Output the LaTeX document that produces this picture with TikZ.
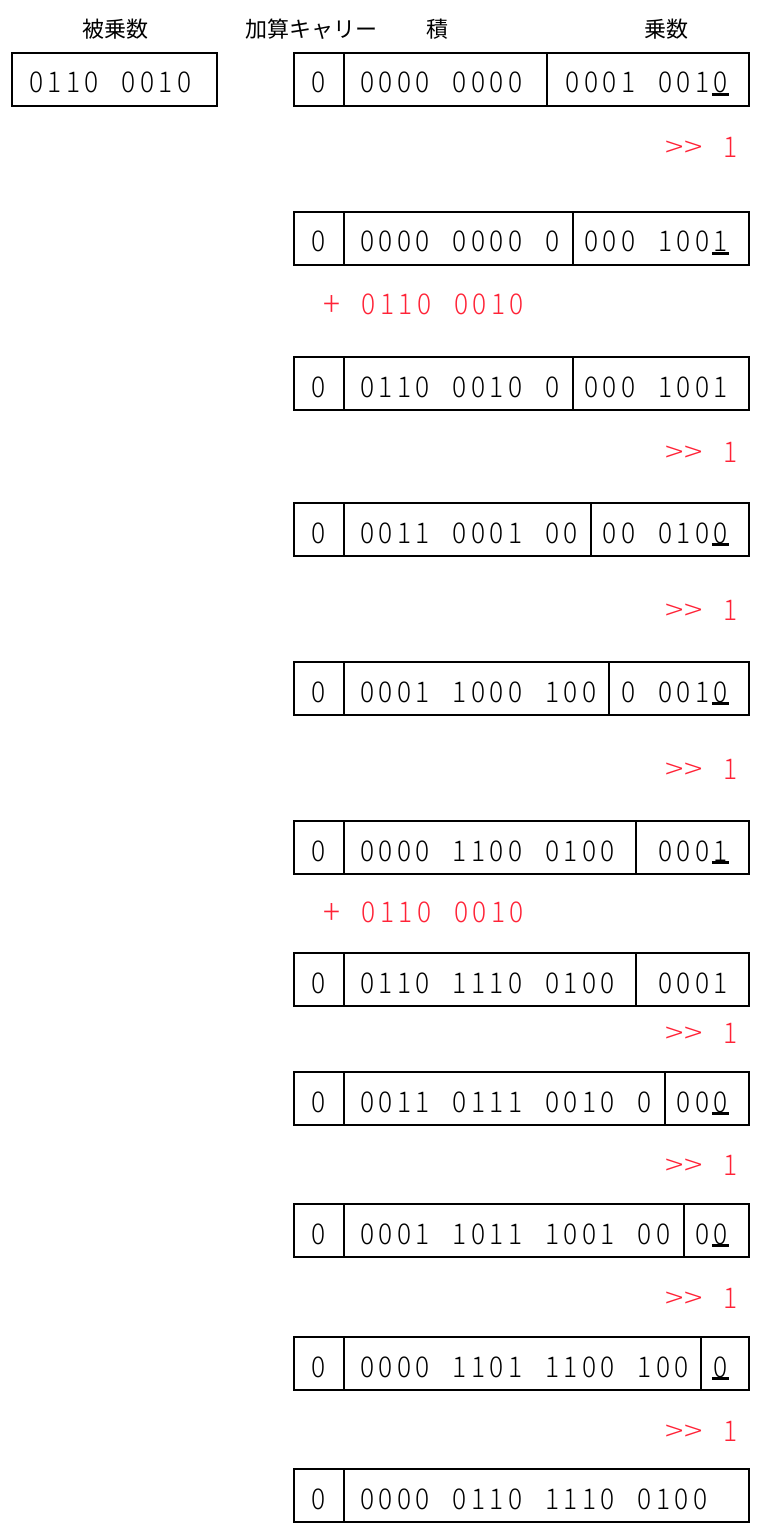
\documentclass[tikz,border=0pt]{standalone}
\usepackage{graphicx}
\usepackage{fontspec}
\newfontfamily\jp{Noto Sans CJK JP}
\newfontfamily\dig{Noto Sans CJK JP Light}[FakeStretch=0.92]
\definecolor{refred}{RGB}{255,35,55}
\makeatletter
\newcommand\mstr[1]{\@tfor\mtok:=#1\do{\makebox[9.25pt][c]{\mtok}}}
\makeatother
\newcommand\ulc[1]{\rlap{\makebox[9.25pt][c]{\smash{\rule[-1.4pt]{8.8pt}{1.2pt}}}}\makebox[9.25pt][c]{#1}}
\newcommand\gtc{\makebox[9.25pt][c]{\scalebox{1.3}[1]{>}}}
\newcommand\shiftlbl{\gtc\gtc\mstr{~1}}
\newcommand\plusc{\makebox[9.25pt][c]{\raisebox{-0.9pt}{\scalebox{1.2}{+}}}}
\tikzset{
  cellbox/.style={draw=black, line width=0.9pt},
  digit/.style={inner sep=0pt, font=\dig\fontsize{14.3pt}{16pt}\selectfont},
  head/.style={inner sep=0pt, font=\jp\fontsize{11pt}{13pt}\selectfont},
  redlbl/.style={digit, text=refred},
}
\newcommand\prow[6]{% idx, top, div, prod, mult
  \draw[cellbox] (294,#2) rectangle (749,#2+53);
  \draw[cellbox] (344,#2) -- (344,#2+53);
  \ifx\relax#3\relax\else\draw[cellbox] (#3,#2) -- (#3,#2+53);\fi
  \node[digit, anchor=base] (c#1) at (319,#2+40) {0};
  \node[digit, anchor=base west] (p#1) at (357.75,#2+40) {\mstr{#4}};
  \node[digit, anchor=base east] (m#1) at (730.25,#2+40) {#5};
}
\begin{document}
\begin{tikzpicture}[x=0.5pt,y=-0.5pt]
\useasboundingbox (0,0) rectangle (770,1540);
% headers
\node[head] (h1) at (115,29) {被乗数};
\node[head] (h2) at (311,29) {加算キャリー};
\node[head] (h3) at (437,29) {積};
\node[head] (h4) at (666,29) {乗数};
% multiplicand
\draw[cellbox] (12,53) rectangle (217,106);
\node[digit, anchor=base west] (mc) at (26.5,93) {\mstr{0110~0010}};
% rows
\prow{1}{53}{547}{0000~0000}{\mstr{0001~001}\ulc{0}}{}
\prow{2}{212}{573}{0000~0000~0}{\mstr{000~100}\ulc{1}}{}
\prow{3}{357}{573}{0110~0010~0}{\mstr{000~1001}}{}
\prow{4}{503}{591}{0011~0001~00}{\mstr{00~010}\ulc{0}}{}
\prow{5}{662}{609}{0001~1000~100}{\mstr{0~001}\ulc{0}}{}
\prow{6}{821}{636}{0000~1100~0100}{\mstr{000}\ulc{1}}{}
\prow{7}{953}{636}{0110~1110~0100}{\mstr{0001}}{}
\prow{8}{1072}{665}{0011~0111~0010~0}{\mstr{00}\ulc{0}}{}
\prow{9}{1204}{684}{0001~1011~1001~00}{\mstr{0}\ulc{0}}{}
\prow{10}{1337}{701}{0000~1101~1100~100}{\ulc{0}}{}
\prow{11}{1469}{}{0000~0110~1110~0100}{}{}
% red labels
\node[redlbl, anchor=base east] (s1) at (740,157.5) {\shiftlbl};
\node[redlbl, anchor=base west] (a1) at (322,314.5) {\plusc\mstr{~0110~0010}};
\node[redlbl, anchor=base east] (s2) at (740,462.5) {\shiftlbl};
\node[redlbl, anchor=base east] (s3) at (740,620.5) {\shiftlbl};
\node[redlbl, anchor=base east] (s4) at (740,779.5) {\shiftlbl};
\node[redlbl, anchor=base west] (a2) at (322,922.5) {\plusc\mstr{~0110~0010}};
\node[redlbl, anchor=base east] (s5) at (740,1043.5) {\shiftlbl};
\node[redlbl, anchor=base east] (s6) at (740,1175.5) {\shiftlbl};
\node[redlbl, anchor=base east] (s7) at (740,1308.5) {\shiftlbl};
\node[redlbl, anchor=base east] (s8) at (740,1441.5) {\shiftlbl};
\end{tikzpicture}
\end{document}
